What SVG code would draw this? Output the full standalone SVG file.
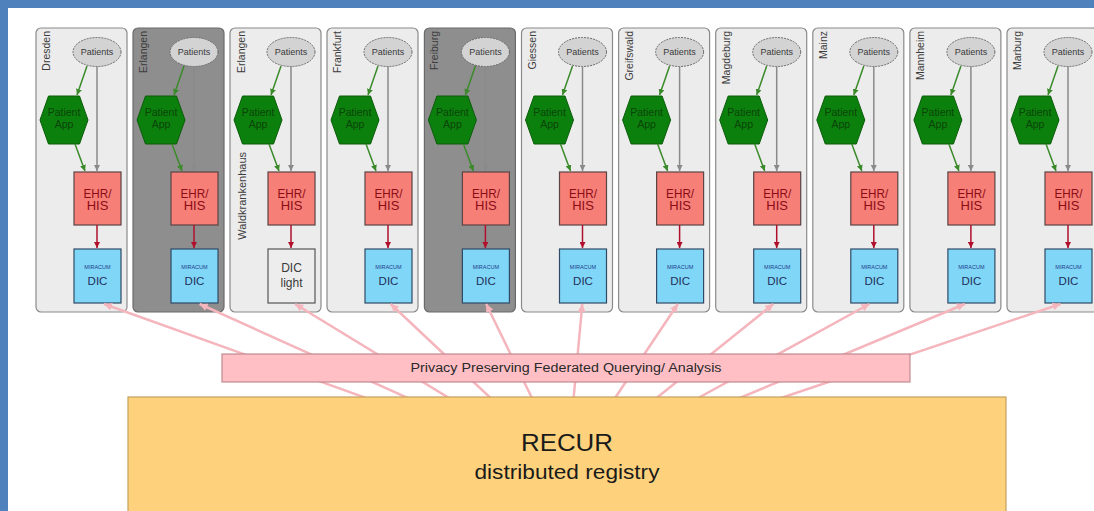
<svg xmlns="http://www.w3.org/2000/svg" width="1094" height="511" viewBox="0 0 1094 511">
<style>
text{font-family:"Liberation Sans",Arial,sans-serif}
.col{fill:#ececec;stroke:#8a8a8a;stroke-width:1.2}
.col.dark{fill:#8e8e8e;stroke:#6a6a6a}
.lbl{font-size:10.5px;fill:#3c3c3c;text-anchor:end}
.pat{fill:#d3d3d3;stroke:#6a6a6a;stroke-width:1;stroke-dasharray:2 1}
.patt{font-size:9px;fill:#3a3a3a;text-anchor:middle}
.hex{fill:#0c800c;stroke:#0a5c0a;stroke-width:1}
.hext{font-size:10.5px;fill:#0a440a;text-anchor:middle}
.ehr{fill:#f67f77;stroke:#5a4444;stroke-width:1.2}
.ehrt{font-size:13px;fill:#8c0c16;text-anchor:middle}
.dic{fill:#80d6f6;stroke:#2f4a66;stroke-width:1.2}
.dicl{fill:#ededed;stroke:#555;stroke-width:1.2}
.mir{font-size:5.5px;fill:#1e3c8c;text-anchor:middle}
.dict{font-size:11.5px;fill:#1f2f5a;text-anchor:middle}
.dicg{font-size:12px;fill:#3a3a3a;text-anchor:middle}
.ag{stroke:#3a8a2a;stroke-width:1.5;fill:none}
.ay{stroke:#8a8a8a;stroke-width:1.5;fill:none}
.ar{stroke:#b0102c;stroke-width:1.5;fill:none}
.ap{stroke:#f5b5bc;stroke-width:2.5;fill:none}
</style>
<defs>
<marker id="mg" viewBox="0 0 10 10" refX="10" refY="5" markerWidth="6" markerHeight="6" markerUnits="userSpaceOnUse" orient="auto"><path d="M0,0L10,5L0,10z" fill="#3a8a2a"/></marker>
<marker id="my" viewBox="0 0 10 10" refX="10" refY="5" markerWidth="6" markerHeight="6" markerUnits="userSpaceOnUse" orient="auto"><path d="M0,0L10,5L0,10z" fill="#8a8a8a"/></marker>
<marker id="mr" viewBox="0 0 10 10" refX="10" refY="5" markerWidth="6" markerHeight="6" markerUnits="userSpaceOnUse" orient="auto"><path d="M0,0L10,5L0,10z" fill="#b0102c"/></marker>
<marker id="mp" viewBox="0 0 10 10" refX="10" refY="5" markerWidth="8" markerHeight="8" markerUnits="userSpaceOnUse" orient="auto"><path d="M0,0L10,5L0,10z" fill="#f5b5bc"/></marker>
<g id="colbody">
<ellipse class="pat" cx="61" cy="52" rx="24" ry="14.5"/>
<text class="patt" x="61" y="55">Patients</text>
<polygon class="hex" points="4,120 12.5,96 43.5,96 52,120 43.5,144 12.5,144"/>
<text class="hext" x="28" y="116">Patient</text>
<text class="hext" x="28" y="128">App</text>
<rect class="ehr" x="38" y="172" width="47" height="53"/>
<text class="ehrt" x="61.5" y="198" textLength="28" lengthAdjust="spacingAndGlyphs">EHR/</text>
<text class="ehrt" x="61.5" y="210">HIS</text>
<line class="ay" x1="61" y1="66.5" x2="61" y2="171" marker-end="url(#my)"/>
<line class="ag" x1="51" y1="66" x2="41" y2="95" marker-end="url(#mg)"/>
<line class="ag" x1="39" y1="144" x2="49" y2="171" marker-end="url(#mg)"/>
<line class="ar" x1="61" y1="225" x2="61" y2="248" marker-end="url(#mr)"/>
</g>
<g id="dicbox">
<rect class="dic" x="38" y="249" width="47" height="54"/>
<text class="mir" x="61.5" y="269">MIRACUM</text>
<text class="dict" x="61.5" y="285">DIC</text>
</g>
</defs>
<rect x="0" y="0" width="1094" height="511" fill="#fff"/>
<rect x="0" y="0" width="1094" height="8" fill="#4f81bd"/>
<rect x="0" y="0" width="8" height="511" fill="#4f81bd"/>

<g id="col-dresden" transform="translate(36,0)">
<rect class="col" x="0" y="28" width="91" height="284" rx="5"/>
<text class="lbl" transform="translate(14,31) rotate(-90)">Dresden</text>
<use href="#colbody"/><use href="#dicbox"/>
</g>
<g id="col-erlangen" transform="translate(133,0)">
<rect class="col dark" x="0" y="28" width="91" height="284" rx="5"/>
<text class="lbl" transform="translate(14,31) rotate(-90)">Erlangen</text>
<use href="#colbody"/><use href="#dicbox"/>
</g>
<g id="col-erlangen-wkh" transform="translate(230,0)">
<rect class="col" x="0" y="28" width="91" height="284" rx="5"/>
<text class="lbl" transform="translate(15,31) rotate(-90)">Erlangen</text>
<text class="lbl" transform="translate(16,152) rotate(-90)" style="font-size:11px">Waldkrankenhaus</text>
<use href="#colbody"/>
<rect class="dicl" x="38" y="249" width="47" height="54"/>
<text class="dicg" x="61.5" y="272">DIC</text>
<text class="dicg" x="61.5" y="287">light</text>
</g>
<g id="col-frankfurt" transform="translate(327,0)">
<rect class="col" x="0" y="28" width="91" height="284" rx="5"/>
<text class="lbl" transform="translate(14,31) rotate(-90)">Frankfurt</text>
<use href="#colbody"/><use href="#dicbox"/>
</g>
<g id="col-freiburg" transform="translate(424.4,0)">
<rect class="col dark" x="0" y="28" width="91" height="284" rx="5"/>
<text class="lbl" transform="translate(14,31) rotate(-90)">Freiburg</text>
<use href="#colbody"/><use href="#dicbox"/>
</g>
<g id="col-giessen" transform="translate(521.5,0)">
<rect class="col" x="0" y="28" width="91" height="284" rx="5"/>
<text class="lbl" transform="translate(14,31) rotate(-90)">Giessen</text>
<use href="#colbody"/><use href="#dicbox"/>
</g>
<g id="col-greifswald" transform="translate(618.6,0)">
<rect class="col" x="0" y="28" width="91" height="284" rx="5"/>
<text class="lbl" transform="translate(14,31) rotate(-90)">Greifswald</text>
<use href="#colbody"/><use href="#dicbox"/>
</g>
<g id="col-magdeburg" transform="translate(715.7,0)">
<rect class="col" x="0" y="28" width="91" height="284" rx="5"/>
<text class="lbl" transform="translate(14,31) rotate(-90)">Magdeburg</text>
<use href="#colbody"/><use href="#dicbox"/>
</g>
<g id="col-mainz" transform="translate(812.8,0)">
<rect class="col" x="0" y="28" width="91" height="284" rx="5"/>
<text class="lbl" transform="translate(14,31) rotate(-90)">Mainz</text>
<use href="#colbody"/><use href="#dicbox"/>
</g>
<g id="col-mannheim" transform="translate(909.9,0)">
<rect class="col" x="0" y="28" width="91" height="284" rx="5"/>
<text class="lbl" transform="translate(14,31) rotate(-90)">Mannheim</text>
<use href="#colbody"/><use href="#dicbox"/>
</g>
<g id="col-marburg" transform="translate(1007,0)">
<rect class="col" x="0" y="28" width="91" height="284" rx="5"/>
<text class="lbl" transform="translate(14,31) rotate(-90)">Marburg</text>
<use href="#colbody"/><use href="#dicbox"/>
</g>

<g id="connectors">
<line class="ap" x1="567" y1="470" x2="104" y2="304" marker-end="url(#mp)"/>
<line class="ap" x1="567" y1="470" x2="199.6" y2="304" marker-end="url(#mp)"/>
<line class="ap" x1="567" y1="470" x2="295.1" y2="304" marker-end="url(#mp)"/>
<line class="ap" x1="567" y1="470" x2="390.7" y2="304" marker-end="url(#mp)"/>
<line class="ap" x1="567" y1="470" x2="486.2" y2="304" marker-end="url(#mp)"/>
<line class="ap" x1="567" y1="470" x2="582.3" y2="304" marker-end="url(#mp)"/>
<line class="ap" x1="567" y1="470" x2="677.8" y2="304" marker-end="url(#mp)"/>
<line class="ap" x1="567" y1="470" x2="773.4" y2="304" marker-end="url(#mp)"/>
<line class="ap" x1="567" y1="470" x2="869.4" y2="304" marker-end="url(#mp)"/>
<line class="ap" x1="567" y1="470" x2="964.9" y2="304" marker-end="url(#mp)"/>
<line class="ap" x1="567" y1="470" x2="1060.5" y2="304" marker-end="url(#mp)"/>
</g>

<g id="privacy">
<rect x="222" y="354" width="688" height="28" fill="#ffbfc5" stroke="#c08a90" stroke-width="1.2"/>
<text x="566" y="372" font-size="12" fill="#2a2a2a" text-anchor="middle" textLength="311" lengthAdjust="spacingAndGlyphs">Privacy Preserving Federated Querying/ Analysis</text>
</g>
<g id="recur">
<rect x="128" y="397" width="878" height="130" fill="#fed27c" stroke="#c4a060" stroke-width="1.2"/>
<text x="567" y="451" font-size="24" fill="#1a1a1a" text-anchor="middle" textLength="92" lengthAdjust="spacingAndGlyphs">RECUR</text>
<text x="567" y="479" font-size="19.5" fill="#1a1a1a" text-anchor="middle" textLength="185" lengthAdjust="spacingAndGlyphs">distributed registry</text>
</g>
</svg>
